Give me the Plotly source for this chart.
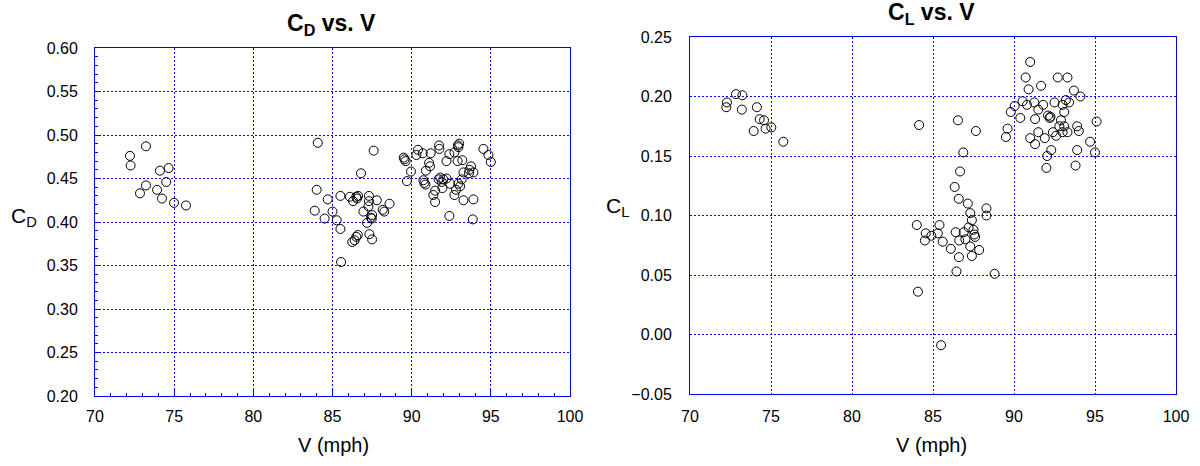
import plotly.graph_objects as go

# ---------------- data ----------------
# C_D vs V (left panel)
v_cd = [73.22, 72.21, 72.25, 74.10, 74.65, 74.50, 73.22, 72.84, 73.92, 74.23, 74.99, 75.75,
        84.07, 87.60, 86.80, 84.00, 84.70, 85.50, 86.10, 86.30, 86.50, 86.62, 86.55, 87.30,
        87.30, 87.80, 88.60, 87.27, 86.95, 88.17, 88.27, 83.88, 85.00, 84.50, 87.50, 87.42,
        87.48, 85.27, 87.18, 85.50, 86.60, 86.50, 86.40, 86.25, 87.33, 87.50, 85.54,
        89.50, 89.55, 89.62, 90.40, 90.30, 90.70, 89.96, 89.70, 90.90, 90.74, 90.80, 90.87,
        91.10, 91.20, 91.73, 91.75, 92.38, 92.70, 92.95, 93.00, 92.92, 92.20, 93.20, 92.90,
        91.16, 93.27, 93.75, 93.65, 93.62, 93.90, 94.53, 94.85, 95.00, 91.80, 92.00, 91.90,
        92.20, 91.70, 92.43, 92.95, 93.06, 93.16, 92.80, 92.70, 91.94, 91.48, 91.37, 91.48,
        93.27, 93.90, 92.38, 93.86]
cd = [0.487, 0.476, 0.465, 0.459, 0.462, 0.446, 0.442, 0.433, 0.437, 0.427, 0.422, 0.419,
      0.491, 0.482, 0.456, 0.437, 0.426, 0.430, 0.429, 0.424, 0.429, 0.430, 0.427, 0.430,
      0.424, 0.425, 0.421, 0.418, 0.412, 0.414, 0.412, 0.413, 0.412, 0.404, 0.408, 0.405,
      0.404, 0.402, 0.399, 0.392, 0.385, 0.383, 0.379, 0.377, 0.386, 0.380, 0.354,
      0.474, 0.472, 0.470, 0.483, 0.477, 0.479, 0.458, 0.447, 0.459, 0.448, 0.445, 0.443,
      0.468, 0.479, 0.488, 0.484, 0.478, 0.480, 0.486, 0.490, 0.488, 0.470, 0.471, 0.470,
      0.464, 0.457, 0.464, 0.460, 0.456, 0.457, 0.484, 0.477, 0.469, 0.451, 0.449, 0.446,
      0.450, 0.449, 0.444, 0.444, 0.441, 0.449, 0.437, 0.431, 0.439, 0.436, 0.431, 0.423,
      0.425, 0.426, 0.407, 0.403]

# C_L vs V (right panel)
v_cl = [72.84, 73.23, 72.28, 72.24, 73.20, 74.13, 74.30, 74.57, 73.93, 74.67, 75.02, 75.76,
        84.00, 84.07, 84.14, 84.50, 84.55, 84.90, 85.30, 85.40, 85.60, 85.50, 86.10, 86.34,
        86.40, 86.59, 86.54, 86.45, 86.60, 86.62, 86.67, 86.87, 86.90, 87.00, 87.15, 87.20,
        87.30, 87.40, 87.50, 87.55, 87.30, 87.40, 87.60, 87.65, 87.85, 88.30, 88.30, 88.80,
        89.50, 89.60, 89.80, 90.04, 90.39, 90.53, 90.72, 90.80, 90.90, 91.00, 91.00, 91.30,
        91.30, 91.25, 91.50, 91.50, 91.67, 91.80, 91.90, 92.00, 92.05, 92.10, 92.20, 92.25,
        92.30, 92.40, 92.50, 92.60, 92.70, 92.80, 92.90, 93.00, 93.00, 93.10, 93.10, 93.20,
        93.30, 93.30, 93.40, 93.70, 93.80, 93.90, 93.90, 94.00, 94.10, 94.70, 95.00, 95.10]
cl = [0.202, 0.201, 0.195, 0.191, 0.189, 0.191, 0.181, 0.180, 0.171, 0.173, 0.174, 0.162,
      0.092, 0.036, 0.176, 0.079, 0.085, 0.083, 0.085, 0.092, 0.078, -0.009, 0.072, 0.124,
      0.086, 0.114, 0.180, 0.053, 0.065, 0.079, 0.137, 0.153, 0.086, 0.080, 0.110, 0.090,
      0.102, 0.096, 0.088, 0.084, 0.074, 0.066, 0.082, 0.171, 0.071, 0.106, 0.100, 0.051,
      0.166, 0.173, 0.187, 0.192, 0.182, 0.196, 0.216, 0.193, 0.206, 0.229, 0.165, 0.160,
      0.181, 0.195, 0.170, 0.189, 0.209, 0.193, 0.165, 0.140, 0.150, 0.184, 0.182, 0.183,
      0.155, 0.170, 0.195, 0.167, 0.216, 0.175, 0.180, 0.193, 0.170, 0.187, 0.175, 0.197,
      0.216, 0.170, 0.195, 0.205, 0.142, 0.175, 0.155, 0.171, 0.200, 0.162, 0.153, 0.179]

x_ticks = [70, 75, 80, 85, 90, 95, 100]
cd_ticks = [0.20, 0.25, 0.30, 0.35, 0.40, 0.45, 0.50, 0.55, 0.60]
cl_ticks = [-0.05, 0.00, 0.05, 0.10, 0.15, 0.20, 0.25]

# ---------------- layout helpers ----------------
W, H = 1200, 466
FONT = "Arial, Liberation Sans, sans-serif"
BLUE = "#0000ff"


def px_x(p):
    return p / W


def px_y(p):
    return 1 - p / H


fig = go.Figure()
marker = dict(symbol="circle-open", size=9, color="black", line=dict(width=1, color="black"))
fig.add_trace(go.Scatter(x=v_cd, y=cd, mode="markers", marker=marker, xaxis="x", yaxis="y",
                         showlegend=False, cliponaxis=False))
fig.add_trace(go.Scatter(x=v_cl, y=cl, mode="markers", marker=marker, xaxis="x2", yaxis="y2",
                         showlegend=False, cliponaxis=False))

common = dict(
    showline=True, linecolor=BLUE, linewidth=1, mirror=True,
    showgrid=True, gridcolor=BLUE, griddash="2px,2px", gridwidth=1,
    zeroline=False, automargin=False,
    tickfont=dict(family=FONT, size=16, color="black"),
)

fig.update_layout(
    template="none",
    width=W, height=H, margin=dict(l=0, r=0, t=0, b=0, pad=0),
    paper_bgcolor="white", plot_bgcolor="white",
    font=dict(family=FONT, color="black"),
    xaxis=dict(domain=[px_x(95), px_x(570)], range=[70, 100], tickvals=x_ticks,
               ticks="inside", tickcolor=BLUE, ticklen=6, tickwidth=1,
               ticklabelstandoff=6,
               minor=dict(ticks="inside", dtick=1, ticklen=3, tickcolor=BLUE, showgrid=False),
               anchor="y", **common),
    yaxis=dict(domain=[px_y(396), px_y(48)], range=[0.20, 0.60], tickvals=cd_ticks,
               ticks="inside", tickcolor=BLUE, ticklen=6, tickwidth=1,
               tickformat=".2f", ticklabelstandoff=13,
               minor=dict(ticks="inside", dtick=0.01, ticklen=3, tickcolor=BLUE, showgrid=False),
               anchor="x", **common),
    xaxis2=dict(domain=[px_x(690), px_x(1176)], range=[70, 100], tickvals=x_ticks,
                ticks="", ticklabelstandoff=8,
                anchor="y2", **common),
    yaxis2=dict(domain=[px_y(394), px_y(37)], range=[-0.05, 0.25], tickvals=cl_ticks,
                ticks="", tickformat=".2f", ticklabelstandoff=14,
                anchor="x2", **common),
)


def label(xp, yp, text, size, xa="center", ya="middle"):
    return dict(x=px_x(xp), y=px_y(yp), text=text, showarrow=False,
                xref="paper", yref="paper", xanchor=xa, yanchor=ya,
                font=dict(family=FONT, size=size, color="black"))


ann = [
    label(331, 24, "<b>C<sub>D</sub> vs. V</b>", 23),
    label(932, 13, "<b>C<sub>L</sub> vs. V</b>", 23),
    label(333, 445, "V (mph)", 20),
    label(932, 445, "V (mph)", 20),
    label(24, 217, "C<sub>D</sub>", 21),
    label(617, 207, "C<sub>L</sub>", 21),
]
fig.update_layout(annotations=ann)

fig.write_html("out.html")
